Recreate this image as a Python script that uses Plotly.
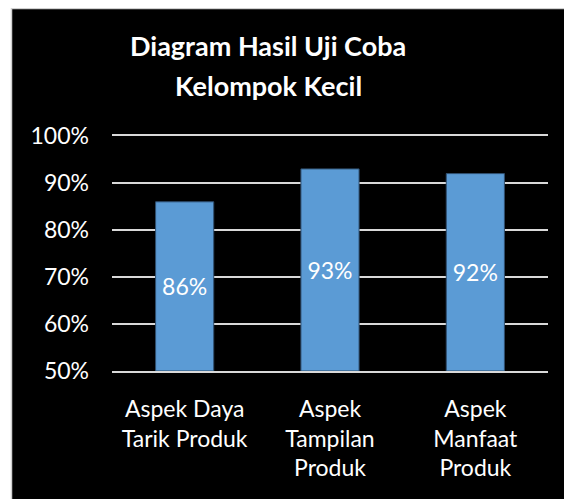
import plotly.graph_objects as go

categories = ["Aspek Daya<br>Tarik Produk", "Aspek<br>Tampilan<br>Produk", "Aspek<br>Manfaat<br>Produk"]
values = [0.86, 0.93, 0.92]
labels = ["86%", "93%", "92%"]
axis_min = 0.5
tick_vals = [0.5, 0.6, 0.7, 0.8, 0.9, 1.0]
tick_text = ["50%", "60%", "70%", "80%", "90%", "100%"]
title_lines = ["Diagram Hasil Uji Coba", "Kelompok Kecil"]

FONT = "Lato, Carlito, Calibri, sans-serif"
GRID = "#D9D9D9"

# page body has a default 8px margin; figure is sized to fit the window
OFF = 8
W, H = 572 - OFF, 499 - OFF
L, R, T, B = 112 - OFF, 24, 136 - OFF, 128
pw, ph = W - L - R, H - T - B

def px2x(px):
    return (px - OFF - L) / pw

def py2y(py):
    return (H - B - (py - OFF)) / ph

fig = go.Figure()
fig.add_trace(go.Bar(
    x=categories, y=[v - axis_min for v in values], base=axis_min,
    text=labels, textposition="inside", insidetextanchor="middle",
    textfont=dict(color="white", size=23, family=FONT),
    marker=dict(color="#5B9BD5", line=dict(color="#2F4F6F", width=1)),
    width=0.4,
))

fig.update_layout(
    width=W, height=H,
    margin=dict(l=L, r=R, t=T, b=B, pad=0),
    paper_bgcolor="white", plot_bgcolor="black",
    showlegend=False,
    font=dict(family=FONT, color="white"),
    xaxis=dict(showgrid=False, showline=True, mirror=True, linecolor=GRID, linewidth=2,
               ticks="", automargin=False,
               tickfont=dict(size=23, color="white", family=FONT),
               ticklabelstandoff=16),
    yaxis=dict(range=[0.5, 1.0], tickvals=tick_vals, ticktext=tick_text,
               showgrid=True, gridcolor=GRID, gridwidth=2,
               zeroline=False, showline=False, ticks="", automargin=False,
               tickfont=dict(size=23, color="white", family=FONT),
               ticklabelstandoff=22),
    shapes=[dict(type="rect", xref="paper", yref="paper", layer="below",
                 x0=px2x(11.5), x1=px2x(575), y0=py2y(505), y1=py2y(8.5),
                 fillcolor="black", line=dict(color="#D0D0D0", width=1.5))],
    annotations=[
        dict(text="<b>%s</b>" % title_lines[0], xref="paper", yref="paper",
             x=px2x(268), y=py2y(46), xanchor="center", yanchor="middle",
             showarrow=False, font=dict(color="white", size=27, family=FONT)),
        dict(text="<b>%s</b>" % title_lines[1], xref="paper", yref="paper",
             x=px2x(268), y=py2y(86), xanchor="center", yanchor="middle",
             showarrow=False, font=dict(color="white", size=27, family=FONT)),
    ],
)

fig.write_html("out.html")
